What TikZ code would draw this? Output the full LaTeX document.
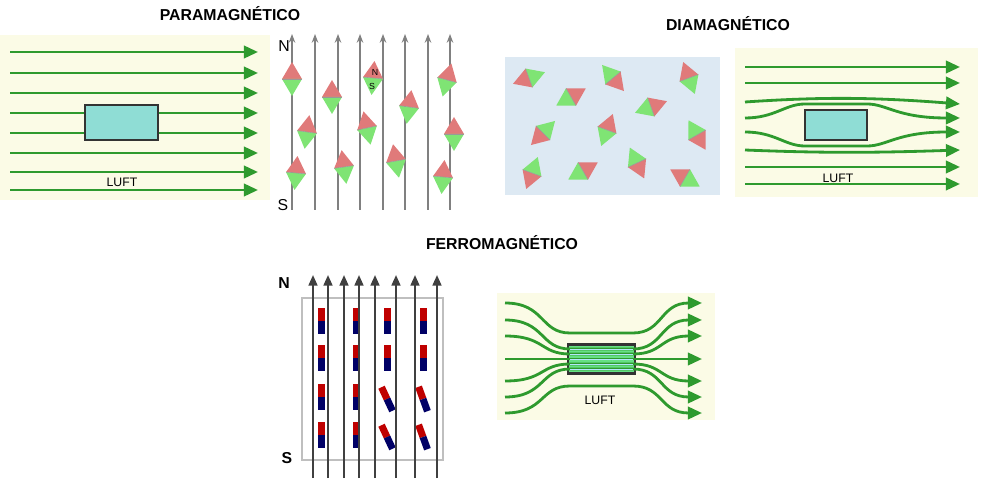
\documentclass[tikz,border=0pt]{standalone}
\usepackage{fontspec}
\setmainfont{Liberation Sans}
\usetikzlibrary{arrows.meta,positioning}
\definecolor{fieldgreen}{HTML}{2E9A2E}
\definecolor{paper}{HTML}{FBFBE6}
\definecolor{sample}{HTML}{8FDDD5}
\definecolor{poleN}{HTML}{E07A7A}
\definecolor{poleS}{HTML}{7FE474}
\definecolor{water}{HTML}{DDE9F3}
\tikzset{
		>=Triangle,
		field/.style={draw=fieldgreen, line width=1.6pt, -{Triangle[length=8pt,width=7pt]}},
		guide/.style={draw=gray, line width=0.6pt, -{Stealth[length=5pt]}},
		iron/.style={draw=black!75, line width=1.2pt, -{Triangle[length=6pt,width=5pt]}},
		sample/.style={draw=black!80, line width=1.2pt, fill=sample},
		title/.style={font=\bfseries\small},
		luft/.style={font=\scriptsize}
	}
\newcommand{\Dipole}[3]{%
	\begin{scope}[shift={(#1,#2)}, rotate=#3]
		\fill[poleN] (-10,0) -- (0,-17) -- (10,0) -- cycle;
		\fill[poleS] (-10,0) -- (0,17) -- (10,0) -- cycle;
		\draw[black!40, line width=0.3pt] (-10,0) -- (10,0);
	\end{scope}}
\newcommand{\Bar}[3]{%
	\begin{scope}[shift={(#1,#2)}, rotate=#3]
		\fill[red!75!black] (-3.5,-13) rectangle (3.5,0);
		\fill[blue!40!black] (-3.5,0) rectangle (3.5,13);
	\end{scope}}
\begin{document}
\begin{tikzpicture}[x=0.02cm, y=-0.02cm]
	\useasboundingbox (0,0) rectangle (1000,489);
	% titles
	\node[title] (tpara) at (230,14) {PARAMAGNÉTICO};
	\node[title] (tdia) at (728,24) {DIAMAGNÉTICO};
	\node[title] (tferro) at (502,243) {FERROMAGNÉTICO};
	% paramagnetic field
	\fill[paper] (0,35) rectangle (270,200);
	\foreach \y in {52,73,93,113,133,153,172,190}
		\draw[field] (10,\y) -- (258,\y);
	\node[sample, minimum width=1.46cm, minimum height=0.7cm] (parabox) at (121.5,122.5) {};
	\node[luft] (paraluft) at (122,182) {LUFT};
	% paramagnetic dipoles
	\foreach \x in {292,315,338,360,383,405,428,450}
		\draw[guide] (\x,210) -- (\x,34);
	\node[font=\small] (paraN) at (284,46) {N};
	\node[font=\small] (paraS) at (283,205) {S};
	\foreach \x/\y/\a in {292/79/0, 332/97/0, 307/132/-8, 296/173/-5, 344/167/8,
		367/128/12, 373/78/-5, 409/107/-8, 396/161/10, 447/80/-15, 454/134/0, 443/177/-5}
		\Dipole{\x}{\y}{\a};
	\node[font=\tiny] (dipN) at (375,72) {N};
	\node[font=\tiny] (dipS) at (372,86) {S};
	% diamagnetic dipoles
	\fill[water] (505,57) rectangle (720,195);
	\foreach \x/\y/\a in {529/78/110, 571/97/-60, 613/78/-140, 689/78/20, 651/107/-70,
		543/133/135, 607/130/-20, 697/135/-150, 532/173/160, 583/171/-60, 637/163/-155, 685/178/60}
		\Dipole{\x}{\y}{\a};
	% diamagnetic field
	\fill[paper] (735,48) rectangle (978,197);
	\foreach \y in {67,83,167,184}
		\draw[field] (745,\y) -- (960,\y);
	\draw[field] (745,102) .. controls (820,97) and (870,97) .. (960,104);
	\draw[field] (745,118) .. controls (775,118) and (785,104) .. (805,104) -- (867,104) .. controls (887,104) and (897,118) .. (960,118);
	\draw[field] (745,132) .. controls (775,132) and (785,146) .. (805,146) -- (867,146) .. controls (887,146) and (897,132) .. (960,132);
	\draw[field] (745,150) .. controls (820,153) and (870,153) .. (960,150);
	\node[sample, minimum width=1.24cm, minimum height=0.6cm] (diabox) at (836,125) {};
	\node[luft] (dialuft) at (838,178) {LUFT};
	% ferromagnetic bars
	\draw[black!25, line width=0.6pt] (302,298) rectangle (443,460);
	\foreach \x/\y/\a in {321/321/0, 356/321/0, 387/321/0, 423/321/0,
		321/358/0, 356/358/0, 387/358/0, 423/358/0,
		321/397/0, 356/397/0, 387/399/25, 423/399/20,
		321/435/0, 356/435/0, 387/437/25, 423/437/20}
		\Bar{\x}{\y}{\a};
	\foreach \x in {313,328,344,359,375,396,415,437}
		\draw[iron] (\x,478) -- (\x,275);
	\node[font=\bfseries\small] (ferroN) at (284,283) {N};
	\node[font=\bfseries\small] (ferroS) at (287,458) {S};
	% ferromagnetic field
	\fill[paper] (497,293) rectangle (715,420);
	\node[sample, fill=teal!40!green!60, minimum width=1.34cm, minimum height=0.58cm] (ferrobox) at (601.5,359) {};
	\foreach \yo/\yb in {303/333, 320/349, 336/354, 359/359, 381/364, 397/369, 413/386}
		\draw[field] (505,\yo) .. controls (545,\yo) and (540,\yb) .. (570,\yb) -- (633,\yb) .. controls (663,\yb) and (660,\yo) .. (702,\yo);
	\foreach \yb in {349,354,359,364,369}
		\draw[cyan!30, line width=0.5pt] (570,\yb) -- (633,\yb);
	\node[luft] (ferroluft) at (600,400) {LUFT};
\end{tikzpicture}
\end{document}
